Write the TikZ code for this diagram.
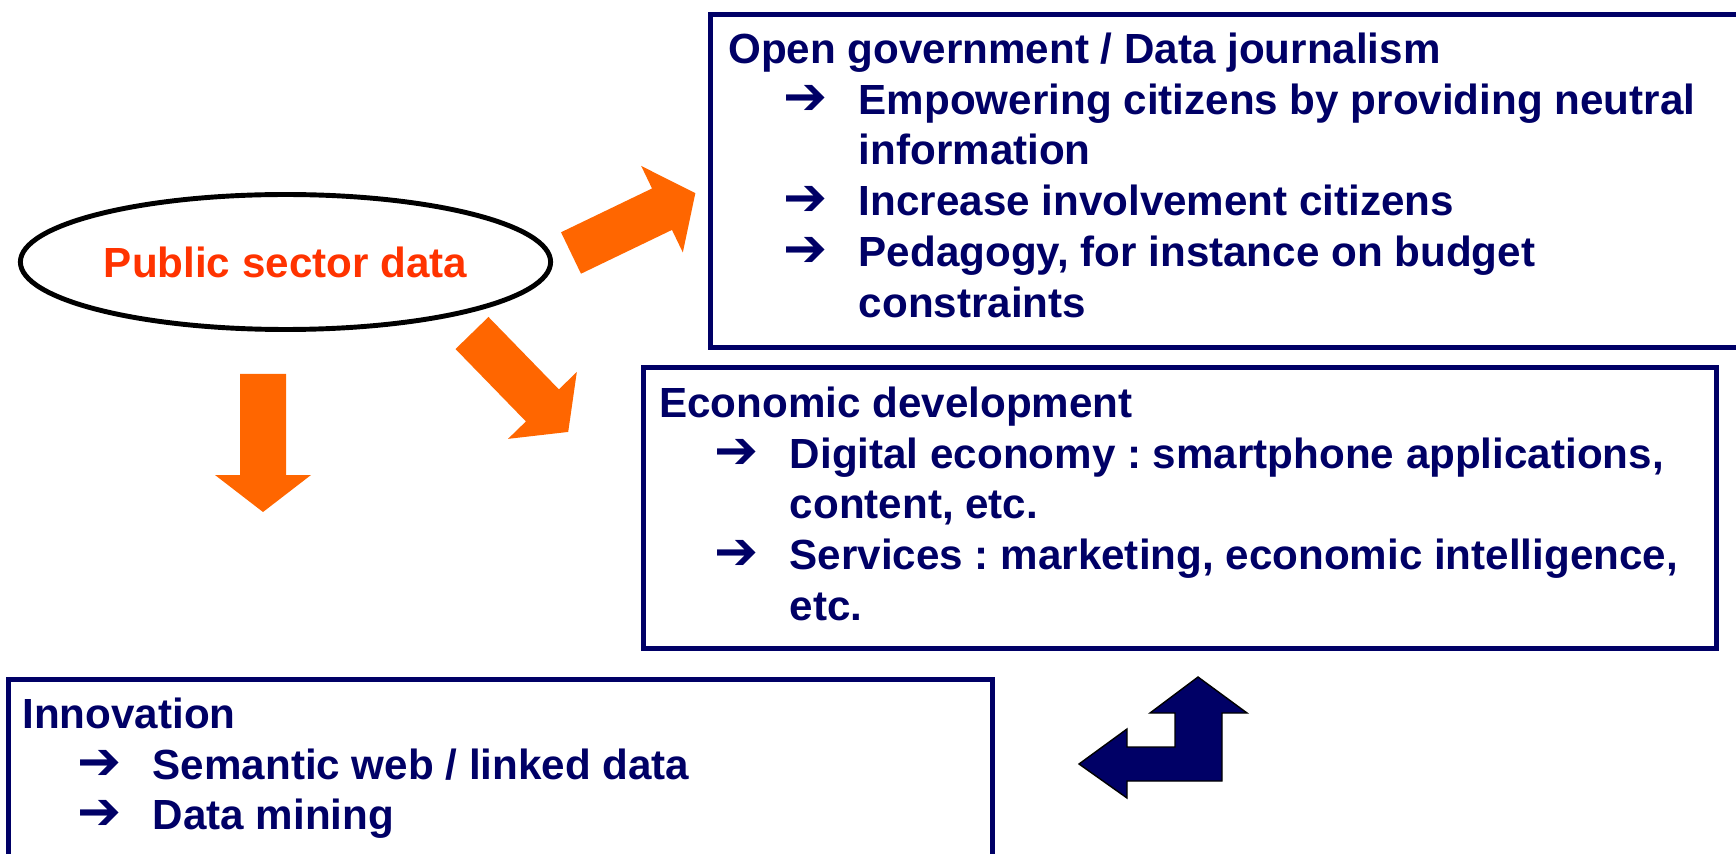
\documentclass[tikz,border=0pt]{standalone}
\usepackage{fontspec}
\setmainfont{Liberation Sans}
\newfontfamily\symfont{DejaVu Sans}
\usetikzlibrary{positioning,shapes.geometric}
\frenchspacing

\definecolor{navy}{HTML}{000066}
\definecolor{arroworange}{HTML}{FF6600}
\definecolor{datared}{HTML}{FF3300}

\newcommand{\itm}{\makebox[2.61cm][l]{\hspace*{1.1cm}{\symfont\bfseries\fontsize{30}{30}\selectfont ➔}}}
\newcommand{\cnt}{\hspace*{2.61cm}}
\newcommand{\fatarrow}[3]{\fill[arroworange, shift={(#1,#2)}, rotate=#3]
  (0,-23) -- (101,-23) -- (101,-48) -- (138,0) -- (101,48) -- (101,23) -- (0,23) -- cycle;}

\begin{document}
\begin{tikzpicture}[
x=0.02cm, y=-0.02cm,
font=\fontsize{24}{28.9}\selectfont\bfseries,
infobox/.style={rectangle, draw=navy, line width=2.8pt, anchor=north west, inner sep=0pt},
itemtext/.style={anchor=north west, inner sep=0pt, align=left, text=navy},
hub/.style={ellipse, draw=black, line width=2.8pt, text=datared, minimum width=10.6cm, minimum height=2.7cm, text height=0.82cm, text depth=0.18cm},
]
\useasboundingbox (0,0) rectangle (1736,854);
\clip (0,0) rectangle (1736,854);

\node[hub] (psd) at (285.5,262) {Public sector data};

\node[infobox, minimum width=20.74cm, minimum height=6.66cm] (govbox) at (708,12) {};
\node[itemtext] (govtext) at ([shift={(20,13)}]govbox.north west) {\rule{0pt}{0.9em}Open government / Data journalism\\
\itm Empowering citizens by providing neutral\\
\cnt information\\
\itm Increase involvement citizens\\
\itm Pedagogy, for instance on budget\\
\cnt constraints};

\node[infobox, minimum width=21.46cm, minimum height=5.62cm] (ecobox) at (641,365) {};
\node[itemtext] (ecotext) at ([shift={(18,14)}]ecobox.north west) {\rule{0pt}{0.9em}Economic development\\
\itm Digital economy : smartphone applications,\\
\cnt content, etc.\\
\itm Services : marketing, economic intelligence,\\
\cnt etc.};

\node[infobox, minimum width=19.68cm, minimum height=4.06cm] (innobox) at (6,677) {};
\node[itemtext] (innotext) at ([shift={(16,13)}]innobox.north west) {\rule{0pt}{0.9em}Innovation\\
\itm Semantic web / linked data\\
\itm Data mining};

% orange arrows
\fatarrow{263}{374}{-90}
\fatarrow{571}{253}{25.7}
\fatarrow{472}{333}{-45.8}

% bent arrow
\filldraw[fill=navy, draw=black, line width=0.8pt]
  (1198,677) -- (1247,713) -- (1222,713) -- (1222,781) -- (1127,781) -- (1127,798)
  -- (1079,764) -- (1127,729) -- (1127,747) -- (1175,747) -- (1175,713) -- (1150,713) -- cycle;
\end{tikzpicture}
\end{document}
